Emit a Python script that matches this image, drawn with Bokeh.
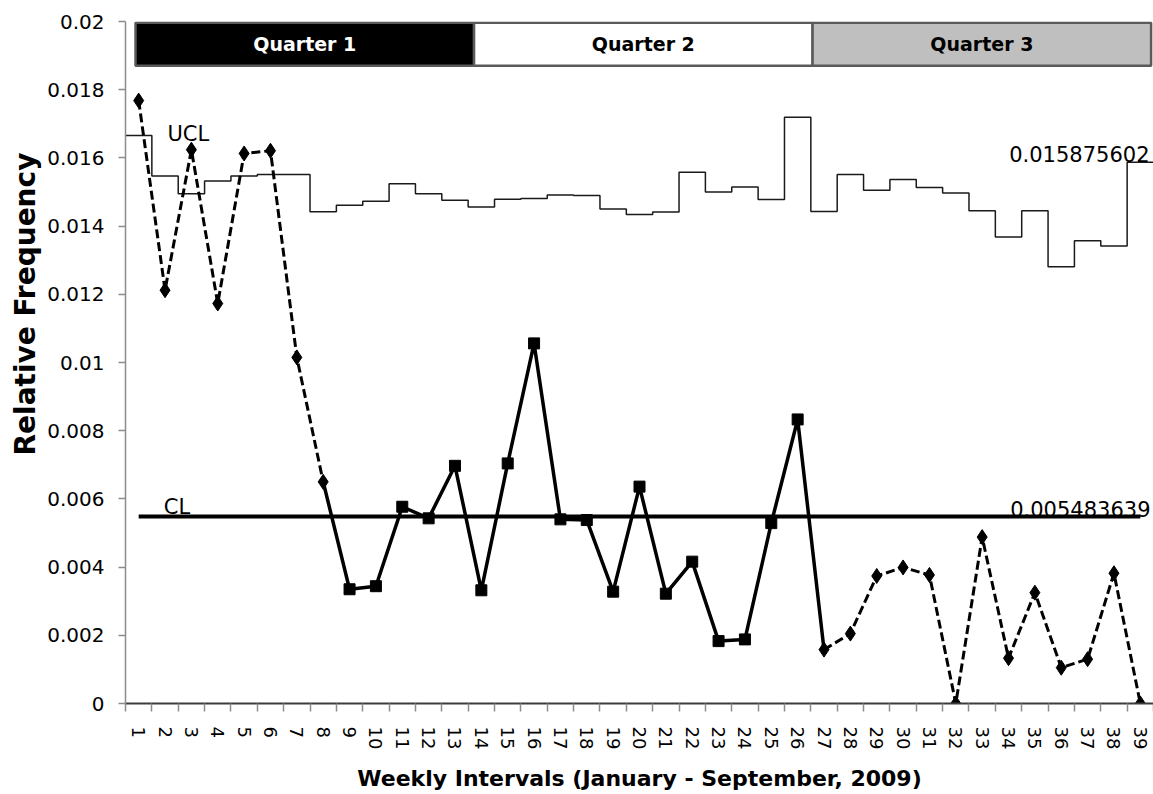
import math
from bokeh.plotting import figure
from bokeh.models import FixedTicker, Title
from bokeh.core.properties import value
from bokeh.embed import file_html
from bokeh.resources import INLINE

# ---------------- data ----------------
weeks = list(range(1, 40))
rel_freq = [0.01768, 0.01212, 0.01624, 0.01173, 0.01613, 0.01621, 0.01015, 0.0065,
            0.00335, 0.00344, 0.00577, 0.00543, 0.00697, 0.00332, 0.00704, 0.01056,
            0.0054, 0.00538, 0.00328, 0.00636, 0.00322, 0.00416, 0.00183, 0.00188,
            0.00529, 0.00833,
            0.00158, 0.00205, 0.00374, 0.00399, 0.00377, 0.0, 0.00488, 0.00133,
            0.00325, 0.00105, 0.0013, 0.00382, 0.0]
ucl = [0.01666, 0.01547, 0.01495, 0.01532, 0.01547, 0.01551, 0.01551, 0.01442, 0.01461, 0.01473,
       0.01524, 0.01495, 0.01476, 0.01456, 0.01479, 0.01481, 0.01491, 0.0149, 0.0145, 0.01434,
       0.01441, 0.01558, 0.015, 0.01515, 0.01478, 0.01719, 0.01443, 0.01551, 0.01505, 0.01537,
       0.01513, 0.01497, 0.01445, 0.01368, 0.01445, 0.01281, 0.01357, 0.01342, 0.015875602]
cl = 0.005483639
ucl_value_text = "0.015875602"
cl_value_text = "0.005483639"
square_weeks = list(range(9, 27))          # weeks drawn with squares / solid line
solid_span = (8, 27)                        # solid line from week 8 to week 27
quarters = ["Quarter 1", "Quarter 2", "Quarter 3"]
quarter_fill = ["#000000", "#ffffff", "#bfbfbf"]
quarter_text_color = ["#ffffff", "#000000", "#000000"]
y_ticks = [0, 0.002, 0.004, 0.006, 0.008, 0.01, 0.012, 0.014, 0.016, 0.018, 0.02]
y_tick_labels = ["0", "0.002", "0.004", "0.006", "0.008", "0.01", "0.012", "0.014",
                 "0.016", "0.018", "0.02"]
x_title = "Weekly Intervals (January - September, 2009)"
y_title = "Relative Frequency"

FONT = "DejaVu Sans"

p = figure(width=1153, height=794, output_backend="svg", toolbar_location=None,
           x_range=(0.5, 39.5), y_range=(0, 0.02),
           min_border_left=125, min_border_right=0, min_border_top=21, min_border_bottom=90)
p.outline_line_color = None
p.xgrid.visible = False
p.ygrid.visible = False
p.background_fill_color = "white"

# ---- UCL step line ----
ucl_x = [w - 0.5 for w in weeks] + [weeks[-1] + 0.5]
ucl_y = ucl + [ucl[-1]]
p.step(ucl_x, ucl_y, mode="after", line_color="#1a1a1a", line_width=1.5)

# ---- CL line ----
p.line([weeks[0], weeks[-1]], [cl, cl], line_color="black", line_width=4)

# ---- quarter bands ----
band_x0, band_w = 0.88, 12.843
band_top, band_bottom = 0.01996, 0.0187
lefts = [band_x0 + i * band_w for i in range(len(quarters))]
rights = [l + band_w for l in lefts]
p.quad(left=lefts, right=rights, top=band_top, bottom=band_bottom,
       fill_color=quarter_fill, line_color="#5a5a5a", line_width=2.5)
p.text(x=[(l + r) / 2 for l, r in zip(lefts, rights)], y=[(band_top + band_bottom) / 2] * 3,
       text=quarters, text_color=quarter_text_color, text_font=value(FONT),
       text_font_style="bold", text_font_size="19px", text_align="center",
       text_baseline="middle")

# ---- series ----
idx = {w: i for i, w in enumerate(weeks)}
s0, s1 = solid_span
dash1 = [w for w in weeks if w <= s0]
solid = [w for w in weeks if s0 <= w <= s1]
dash2 = [w for w in weeks if w >= s1]
for seg in (dash1, dash2):
    p.line(seg, [rel_freq[idx[w]] for w in seg], line_color="black", line_width=3,
           line_dash="9 4")
p.line(solid, [rel_freq[idx[w]] for w in solid], line_color="black", line_width=3.5)

dia = [w for w in weeks if w not in square_weeks]
p.scatter(dia, [rel_freq[idx[w]] for w in dia], marker="diamond", size=15,
          fill_color="black", line_color="black")
p.scatter(square_weeks, [rel_freq[idx[w]] for w in square_weeks], marker="square", size=11,
          fill_color="black", line_color="black")

# ---- control line labels ----
p.text(x=[2.09, 1.95], y=[ucl[0], cl], text=["UCL", "CL"], text_font=value(FONT),
       text_font_size="21px", text_color="black", text_baseline="alphabetic",
       text_align="left", y_offset=[-1, -10])
p.text(x=[39.5, 39.5], y=[ucl[-1], cl], text=[ucl_value_text, cl_value_text],
       text_font=value(FONT), text_font_size="21px", text_color="black",
       text_baseline="alphabetic", text_align="right", x_offset=[-4, -3], y_offset=[-8, -8])

# ---- axes ----
xa = p.xaxis[0]
xa.ticker = FixedTicker(ticks=weeks, minor_ticks=[w - 0.5 for w in weeks] + [weeks[-1] + 0.5])
xa.major_label_orientation = "vertical"
xa.major_tick_out = 0
xa.major_tick_in = 0
xa.minor_tick_out = 8
xa.minor_tick_in = 0
xa.minor_tick_line_color = "#8c8c8c"
xa.minor_tick_line_width = 1.5
xa.axis_line_color = "#3c3c3c"
xa.axis_line_width = 2
xa.major_label_standoff = 15
xa.major_label_text_font = FONT
xa.major_label_text_font_size = "18px"
xa.major_label_text_color = "black"
xa.axis_label = x_title
xa.axis_label_text_font = FONT
xa.axis_label_text_font_style = "bold"
xa.axis_label_text_font_size = "22px"
xa.axis_label_text_color = "black"
xa.axis_label_standoff = 14

ya = p.yaxis[0]
ya.ticker = FixedTicker(ticks=y_ticks)
ya.major_label_overrides = {t: l for t, l in zip(y_ticks, y_tick_labels)}
ya.major_tick_out = 7
ya.major_tick_in = 0
ya.minor_tick_out = 0
ya.minor_tick_in = 0
ya.major_tick_line_color = "#8c8c8c"
ya.major_tick_line_width = 1.5
ya.axis_line_color = "#8c8c8c"
ya.axis_line_width = 1.5
ya.major_label_standoff = 14
ya.major_label_text_font = FONT
ya.major_label_text_font_size = "20px"
ya.major_label_text_color = "black"

# ---- y title (placed higher than the frame centre, as in the reference) ----
p.add_layout(Title(text=y_title, align="left", offset=248, standoff=4,
                   vertical_align="middle",
                   text_font=FONT, text_font_style="bold", text_font_size="28px",
                   text_color="black"), "left")

open("out.html", "w").write(file_html(p, INLINE))
